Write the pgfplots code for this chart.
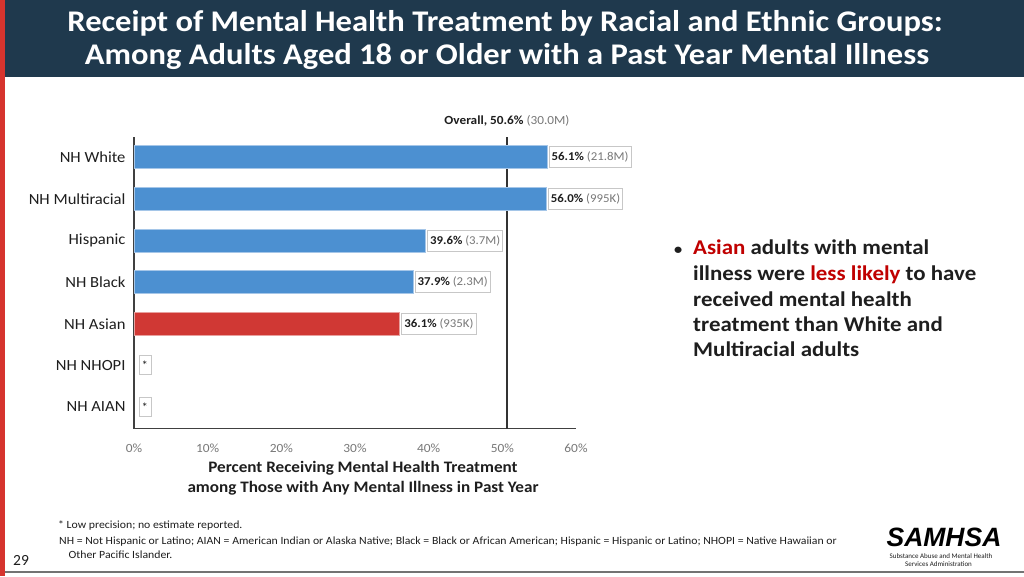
\documentclass[border=0pt]{standalone}
\usepackage{pgfplots}
\pgfplotsset{compat=1.18}
\usepackage{fontspec}
\setmainfont{Carlito}
\newfontfamily\seg[FakeStretch=1.07]{Carlito}
\newfontfamily\segb[FakeStretch=1.09]{Carlito}
\newfontfamily\titlef[FakeStretch=1.085]{Carlito}
\newfontfamily\arialf{Liberation Sans}
\definecolor{navy}{RGB}{31,57,77}
\definecolor{stripred}{RGB}{214,52,46}
\definecolor{barblue}{RGB}{76,144,209}
\definecolor{barblueedge}{RGB}{165,198,232}
\definecolor{barred}{RGB}{208,56,52}
\definecolor{barrededge}{RGB}{232,160,158}
\definecolor{txtred}{RGB}{192,0,0}
\definecolor{dark}{RGB}{30,30,30}
\definecolor{midgray}{RGB}{120,120,120}
\begin{document}
\begin{tikzpicture}
\path[use as bounding box] (0pt,0pt) rectangle (1024pt,-576pt);
\fill[white] (0pt,0pt) rectangle (1024pt,-576pt);
\fill[navy] (5pt,0pt) rectangle (1024pt,-77pt);
\fill[stripred] (0pt,0pt) rectangle (5pt,-576pt);
\draw[black!55, line width=2pt] (5pt,-572pt) -- (1024pt,-572pt);
% title
\node[anchor=base, text=white, font=\titlef\bfseries\fontsize{30}{34}\selectfont, inner sep=0] at (505pt,-31.5pt) {Receipt of Mental Health Treatment by Racial and Ethnic Groups:};
\node[anchor=base, text=white, font=\titlef\bfseries\fontsize{30}{34}\selectfont, inner sep=0] at (507pt,-64.5pt) {Among Adults Aged 18 or Older with a Past Year Mental Illness};
\tikzset{lbl/.style={anchor=west, draw=black!22, fill=white, inner xsep=2.5pt, inner ysep=0pt, minimum height=21pt, font=\seg\fontsize{12}{14}\selectfont, text=dark, xshift=1.5pt, line width=0.8pt}}
\begin{axis}[
  scale only axis, width=442pt, height=291.5pt,
  at={(134pt,-428.5pt)}, anchor=south west,
  xmin=0, xmax=60, ymin=-0.517, ymax=6.49,
  axis x line*=bottom, axis y line*=left,
  axis line style={draw=black!75, line width=1.3pt},
  xtick={0,10,...,60},
  xticklabel={\pgfmathprintnumber{\tick}\%},
  /pgf/number format/assume math mode=true,
  xticklabel style={font=\seg\fontsize{12.5}{14}\selectfont, text=midgray, yshift=-12pt},
  ytick={0,...,6},
  yticklabels={NH AIAN,NH NHOPI,NH Asian,NH Black,Hispanic,NH Multiracial,NH White},
  yticklabel style={font=\seg\fontsize{15.5}{18}\selectfont, text=dark, xshift=-5pt},
  major tick length=0pt,
  clip=false,
  xbar, bar width=23pt,
]
\draw[black!80, line width=1.8pt] (axis cs:50.6,-0.517) -- (axis cs:50.6,6.49);
\addplot[xbar, bar shift=0pt, fill=barblue, draw=barblueedge, line width=1pt] coordinates {(56.1,6) (56.0,5) (39.6,4) (37.9,3)};
\addplot[xbar, bar shift=0pt, fill=barred, draw=barrededge, line width=1pt] coordinates {(36.1,2)};
\node[lbl] at (axis cs:56.1,6) {\textbf{56.1\%} {\color{midgray}(21.8M)}};
\node[lbl] at (axis cs:56.0,5) {\textbf{56.0\%} {\color{midgray}(995K)}};
\node[lbl] at (axis cs:39.6,4) {\textbf{39.6\%} {\color{midgray}(3.7M)}};
\node[lbl] at (axis cs:37.9,3) {\textbf{37.9\%} {\color{midgray}(2.3M)}};
\node[lbl] at (axis cs:36.1,2) {\textbf{36.1\%} {\color{midgray}(935K)}};
\node[lbl, minimum width=12pt, minimum height=19pt, inner xsep=0pt, xshift=3pt] at (axis cs:0,1) {*};
\node[lbl, minimum width=12pt, minimum height=19pt, inner xsep=0pt, xshift=3pt] at (axis cs:0,0) {*};
\end{axis}
\node[font=\seg\fontsize{12.4}{14}\selectfont, text=dark] at (507pt,-121pt) {\textbf{Overall, 50.6\%} {\color{midgray}(30.0M)}};
\node[font=\seg\bfseries\fontsize{16}{18}\selectfont, text=dark] at (363pt,-468pt) {Percent Receiving Mental Health Treatment};
\node[font=\seg\bfseries\fontsize{16}{18}\selectfont, text=dark] at (363pt,-488pt) {among Those with Any Mental Illness in Past Year};
% bullet text
\begin{scope}[every node/.style={anchor=base west, inner sep=0, font=\segb\bfseries\fontsize{21}{25}\selectfont, text=dark}]
\node at (674pt,-254.3pt) {\fontsize{15}{18}\selectfont\textbullet};
\node at (693pt,-254.3pt) {\textcolor{txtred}{Asian} adults with mental};
\node at (693pt,-280pt) {illness were \textcolor{txtred}{less likely} to have};
\node at (693pt,-306pt) {received mental health};
\node at (693pt,-331pt) {treatment than White and};
\node at (693pt,-356pt) {Multiracial adults};
\end{scope}
% footnotes
\begin{scope}[every node/.style={anchor=base west, inner sep=0, font=\seg\fontsize{11}{12}\selectfont, text=dark}]
\node at (58pt,-528pt) {* Low precision; no estimate reported.};
\node at (59pt,-544pt) {NH = Not Hispanic or Latino; AIAN = American Indian or Alaska Native; Black = Black or African American; Hispanic = Hispanic or Latino; NHOPI = Native Hawaiian or};
\node at (68.5pt,-558pt) {Other Pacific Islander.};
\end{scope}
\node[anchor=base west, inner sep=0, font=\fontsize{15.5}{18}\selectfont, text=dark] at (13pt,-565pt) {29};
% logo
\node[anchor=base, inner sep=0, font=\arialf\bfseries\itshape\fontsize{26.5}{28}\selectfont] at (944pt,-546.7pt) {SAMHSA};
\node[anchor=base, inner sep=0, font=\fontsize{7}{8}\selectfont, text=dark] at (941pt,-558pt) {Substance Abuse and Mental Health};
\node[anchor=base, inner sep=0, font=\fontsize{7}{8}\selectfont, text=dark] at (938.5pt,-566.5pt) {Services Administration};
\end{tikzpicture}
\end{document}
